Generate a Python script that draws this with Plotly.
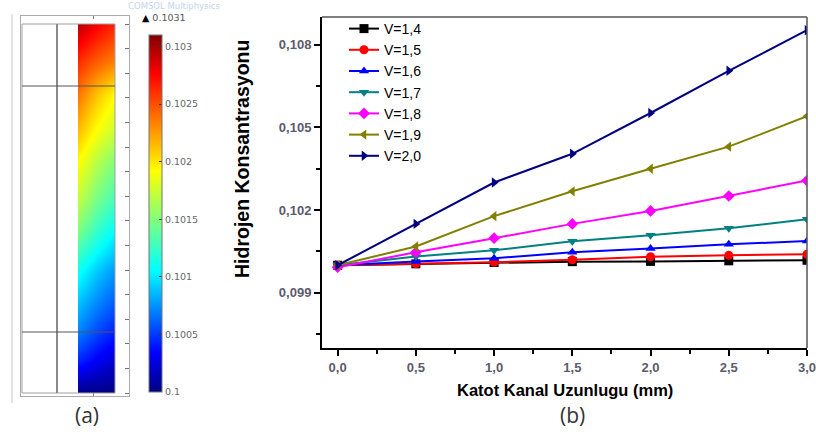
import plotly.graph_objects as go

W, H = 816, 435

# ---------------- Panel (b) data ----------------
length_mm = [0.0, 0.5, 1.0, 1.5, 2.0, 2.5, 3.0]
series_names = ["V=1,4", "V=1,5", "V=1,6", "V=1,7", "V=1,8", "V=1,9", "V=2,0"]
c_v14 = [0.10000, 0.10005, 0.10010, 0.10013, 0.10014, 0.10016, 0.10018]
c_v15 = [0.10000, 0.10006, 0.10011, 0.10020, 0.10031, 0.10036, 0.10040]
c_v16 = [0.10000, 0.10014, 0.10025, 0.10047, 0.10061, 0.10076, 0.10088]
c_v17 = [0.10000, 0.10032, 0.10054, 0.10087, 0.10109, 0.10134, 0.10167]
c_v18 = [0.09993, 0.10047, 0.10098, 0.10150, 0.10197, 0.10251, 0.10307]
c_v19 = [0.10000, 0.10068, 0.10178, 0.10268, 0.10350, 0.10430, 0.10540]
c_v20 = [0.10000, 0.10150, 0.10300, 0.10404, 0.10552, 0.10705, 0.10852]
series_values = [c_v14, c_v15, c_v16, c_v17, c_v18, c_v19, c_v20]
series_colors = ["#000000", "#ff0000", "#0000ff", "#008080", "#ff00ff", "#808000", "#000080"]
series_symbols = ["square", "circle", "triangle-up", "triangle-down", "diamond",
                  "triangle-left", "triangle-right"]

y_tickvals = [0.099, 0.102, 0.105, 0.108]
x_tickvals = [0.0, 0.5, 1.0, 1.5, 2.0, 2.5, 3.0]

# ---------------- Panel (a) data (field) ----------------
field_pos = [0.0, 0.09, 0.17, 0.25, 0.33, 0.44, 0.52, 0.63, 0.71, 0.81, 0.90, 1.0]  # bottom -> top
field_cols = [0.0, 0.5, 1.0]  # left -> right across channel
conc_left = [0.10002, 0.10045, 0.10072, 0.10090, 0.10110, 0.10148, 0.10170, 0.10193,
             0.10214, 0.10238, 0.10262, 0.10296]
conc_mid = [0.10001, 0.10032, 0.10055, 0.10073, 0.10090, 0.10123, 0.10145, 0.10168,
            0.10190, 0.10212, 0.10246, 0.10278]
conc_right = [0.10000, 0.10022, 0.10043, 0.10060, 0.10076, 0.10105, 0.10127, 0.10150,
              0.10174, 0.10193, 0.10234, 0.10264]
cbar_min, cbar_max = 0.1, 0.1031
cbar_tickvals = [0.1, 0.1005, 0.101, 0.1015, 0.102, 0.1025, 0.103]
cbar_ticktext = ["0.1", "0.1005", "0.101", "0.1015", "0.102", "0.1025", "0.103"]


def px(xp):
    return xp / W


def py(yp):
    return 1 - yp / H


fig = go.Figure()

# dummy trace for frame axes of panel (a)
fig.add_trace(go.Scatter(x=[None], y=[None], xaxis="x4", yaxis="y4",
                         showlegend=False, hoverinfo="skip"))

# ---- heatmap (a)
z = [[l, m, r] for l, m, r in zip(conc_left, conc_mid, conc_right)]
jet = [[0.0, "rgb(0,0,128)"], [0.11, "rgb(0,0,255)"], [0.34, "rgb(0,255,255)"],
       [0.62, "rgb(255,255,0)"], [0.89, "rgb(255,0,0)"], [1.0, "rgb(128,0,0)"]]
fig.add_trace(go.Heatmap(
    x=field_cols, y=field_pos, z=z, zmin=cbar_min, zmax=cbar_max,
    colorscale=jet, zsmooth="best", hoverinfo="skip",
    xaxis="x3", yaxis="y3",
    colorbar=dict(
        x=px(149), xanchor="left", xpad=0,
        y=py(392), yanchor="bottom", ypad=0,
        len=(392 - 35) / H, lenmode="fraction",
        thickness=13, thicknessmode="pixels",
        outlinewidth=1, outlinecolor="#777777",
        tickvals=cbar_tickvals, ticktext=cbar_ticktext,
        ticks="inside", ticklen=3, tickcolor="#333333",
        tickfont=dict(family="DejaVu Sans", size=9.5, color="#666666"),
    ),
))

# ---- lines (b)
for name, vals, col, sym in zip(series_names, series_values, series_colors, series_symbols):
    fig.add_trace(go.Scatter(
        x=length_mm, y=vals, name=name, mode="lines+markers",
        line=dict(color=col, width=2),
        marker=dict(color=col, symbol=sym, size=9),
        xaxis="x", yaxis="y",
    ))

axis_font = dict(family="Liberation Sans", size=13, color="#5b5b6b", weight="bold")

fig.update_layout(
    width=W, height=H,
    margin=dict(l=0, r=0, t=0, b=0, autoexpand=False),
    paper_bgcolor="white", plot_bgcolor="rgba(0,0,0,0)",
    separators=",.",
    showlegend=True,
    legend=dict(
        x=px(344), y=py(13), xanchor="left", yanchor="top",
        bgcolor="rgba(0,0,0,0)", borderwidth=0,
        font=dict(family="Liberation Sans", size=14, color="#000000"),
        tracegroupgap=0,
    ),
    xaxis=dict(
        domain=[px(322), px(807)], anchor="y", range=[-0.1, 3.0], automargin=False,
        tickvals=x_tickvals, tickformat=".1f", ticklabeloverflow="allow",
        ticks="outside", ticklen=6, tickwidth=2, tickcolor="#000000",
        minor=dict(ticks="outside", ticklen=4, tickwidth=2, tickcolor="#000000", dtick=0.25, tick0=0),
        showline=True, linecolor="#000000", linewidth=2,
        showgrid=False, zeroline=False, tickfont=axis_font,
    ),
    yaxis=dict(
        domain=[py(348), py(17)], anchor="x", range=[0.097, 0.109], automargin=False,
        tickvals=y_tickvals, tickformat=".3f",
        ticks="outside", ticklen=6, tickwidth=2, tickcolor="#000000",
        minor=dict(ticks="outside", ticklen=4, tickwidth=2, tickcolor="#000000", dtick=0.0015, tick0=0.0975),
        showline=True, linecolor="#000000", linewidth=2,
        showgrid=False, zeroline=False, tickfont=axis_font,
    ),
    xaxis3=dict(domain=[px(78), px(115)], anchor="y3", range=[0, 1], visible=False,
                fixedrange=True, automargin=False),
    yaxis3=dict(domain=[py(393), py(24)], anchor="x3", range=[0, 1], visible=False,
                fixedrange=True, automargin=False),
    xaxis4=dict(
        domain=[px(21), px(129)], anchor="y4", range=[0, 1.5], tickvals=[0, 1], automargin=False,
        ticks="inside", ticklen=3, tickcolor="#777777", showticklabels=False,
        showline=True, linecolor="#aaaaaa", linewidth=1, mirror="ticks",
        showgrid=False, zeroline=False,
    ),
    yaxis4=dict(
        domain=[py(396), py(16)], anchor="x4", range=[-0.12, 15.33], side="right", automargin=False,
        tick0=0, dtick=1, ticks="inside", ticklen=4, tickcolor="#777777", showticklabels=False,
        showline=True, linecolor="#aaaaaa", linewidth=1, mirror=True,
        showgrid=False, zeroline=False,
    ),
)

shapes = [
    # plot (b) top / right frame lines
    dict(type="line", xref="x domain", yref="y domain", x0=0, x1=1, y0=1, y1=1,
         line=dict(color="#555555", width=1.5)),
    dict(type="line", xref="x domain", yref="y domain", x0=1, x1=1, y0=0, y1=1,
         line=dict(color="#555555", width=1.5)),
    # panel (a) window edge
    dict(type="line", xref="paper", yref="paper", x0=px(12), x1=px(12), y0=py(14), y1=py(403),
         line=dict(color="#dddddd", width=1.5)),
    # panel (a) geometry
    dict(type="rect", xref="paper", yref="paper", x0=px(22), x1=px(115), y0=py(393), y1=py(24),
         line=dict(color="#a0a0a0", width=1), layer="above"),
    dict(type="line", xref="paper", yref="paper", x0=px(57), x1=px(57), y0=py(393), y1=py(24),
         line=dict(color="#8a8a8a", width=2), layer="above"),
    dict(type="line", xref="paper", yref="paper", x0=px(22), x1=px(115), y0=py(86), y1=py(86),
         line=dict(color="#555555", width=1), layer="above"),
    dict(type="line", xref="paper", yref="paper", x0=px(22), x1=px(115), y0=py(332), y1=py(332),
         line=dict(color="#555555", width=1), layer="above"),
]
fig.update_layout(shapes=shapes)

annotations = [
    dict(text="Hidrojen Konsantrasyonu", x=px(242), y=py(159), xref="paper", yref="paper",
         textangle=-90, showarrow=False, xanchor="center", yanchor="middle",
         font=dict(family="Liberation Sans", size=19.5, color="#000000", weight="bold")),
    dict(text="Katot Kanal Uzunlugu (mm)", x=px(565), y=py(390), xref="paper", yref="paper",
         showarrow=False, xanchor="center", yanchor="middle",
         font=dict(family="Liberation Sans", size=16.5, color="#000000", weight="bold")),
    dict(text="(b)", x=px(572), y=py(415), xref="paper", yref="paper",
         showarrow=False, xanchor="center", yanchor="middle",
         font=dict(family="Open Sans", size=21, color="#333333")),
    dict(text="(a)", x=px(87), y=py(415), xref="paper", yref="paper",
         showarrow=False, xanchor="center", yanchor="middle",
         font=dict(family="Open Sans", size=21, color="#333333")),
    dict(text="<span style='color:#000000'>▲</span> 0.1031", x=px(140), y=py(17),
         xref="paper", yref="paper", showarrow=False, xanchor="left", yanchor="middle",
         font=dict(family="DejaVu Sans", size=9.5, color="#555555")),
    dict(text="COMSOL Multiphysics", x=px(126), y=py(6), xref="paper", yref="paper",
         showarrow=False, xanchor="left", yanchor="middle",
         font=dict(family="DejaVu Sans", size=8.5, color="#c3d5ee")),
]
fig.update_layout(annotations=annotations)

fig.write_html("out.html")
